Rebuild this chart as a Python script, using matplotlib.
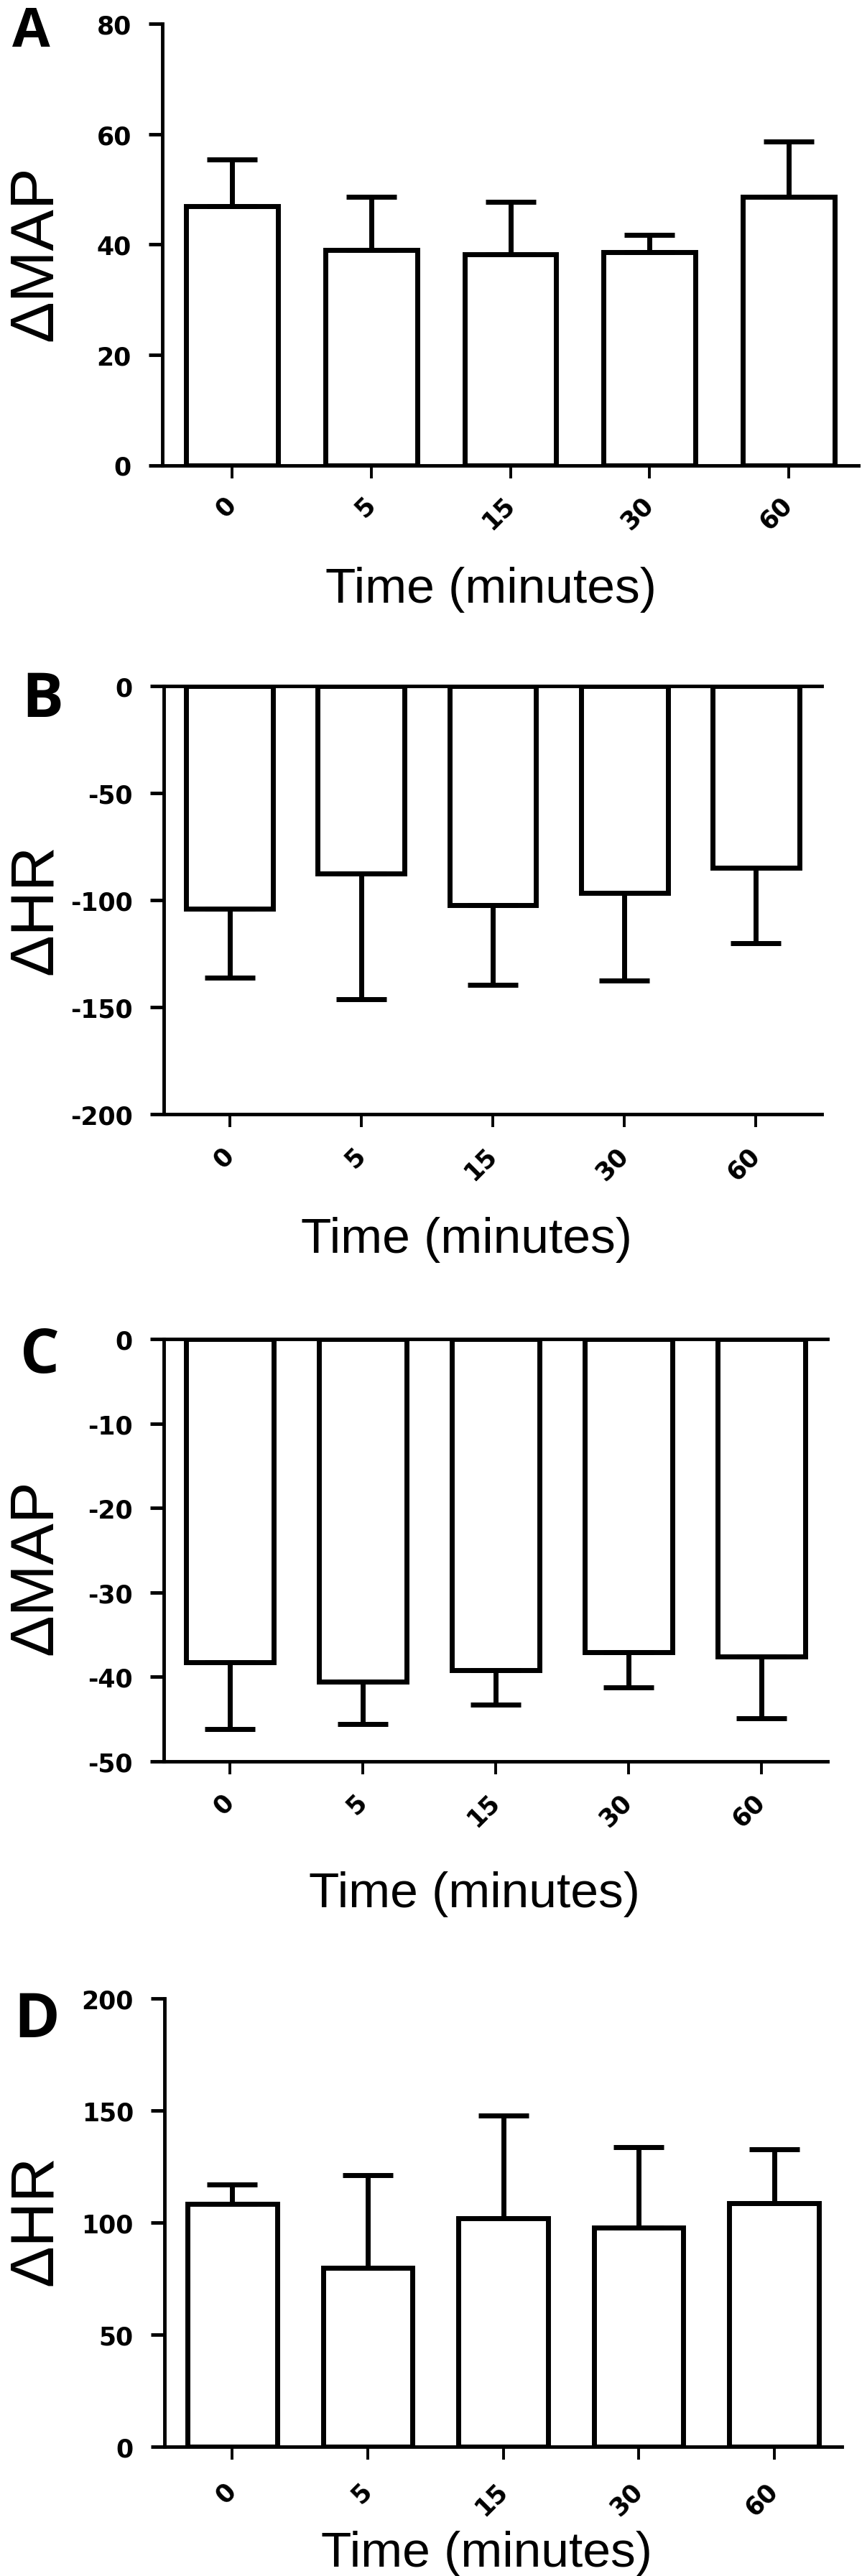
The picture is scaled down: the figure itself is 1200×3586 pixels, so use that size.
import matplotlib
matplotlib.use("Agg")
import matplotlib.pyplot as plt
import numpy as np

plt.rcParams['font.family'] = ['Liberation Sans', 'DejaVu Sans']
plt.rcParams['axes.unicode_minus'] = False
# tick labels are heavy and wide, so ticks get bold DejaVu
plt.rcParams['font.weight'] = 'bold'

# time points (minutes)
times = ["0", "5", "15", "30", "60"]

# panel A: rise in MAP
map_rise = [47.0, 39.0, 38.2, 38.6, 48.7]
map_rise_sem = [8.4, 9.7, 9.6, 3.2, 10.0]
# panel B: fall in HR
hr_fall = [-104.0, -87.5, -102.5, -96.5, -84.8]
hr_fall_sem = [32.3, 58.9, 37.2, 41.1, 35.5]
# panel C: fall in MAP
map_fall = [-38.3, -40.6, -39.2, -37.1, -37.6]
map_fall_sem = [7.9, 5.0, 4.1, 4.1, 7.3]
# panel D: rise in HR
hr_rise = [108.2, 79.8, 101.8, 97.8, 108.8]
hr_rise_sem = [8.8, 41.2, 45.8, 35.8, 23.8]

W, H = 1200, 3587
fig = plt.figure(figsize=(W / 100, H / 100), dpi=100)


def px_axes(left, right, top, bottom):
    # axes box given in pixels from the top-left corner
    return fig.add_axes([left / W, 1 - bottom / H, (right - left) / W, (bottom - top) / H])


panels = [
    # letter, size, ylabel, means, sems, ylim, ystep, box, letter xy, ylabel y, xlabel xy, xtick pad
    ("A", 55, "ΔMAP", map_rise, map_rise_sem, (0, 80), 20, (226, 1195, 34.4, 648.5),
     (17, 65), 353, (683, 839), 22),
    ("B", 62, "ΔHR", hr_fall, hr_fall_sem, (-200, 0), 50, (228, 1144, 956, 1552),
     (30, 998), 1266, (649, 1744), 24),
    ("C", 62, "ΔMAP", map_fall, map_fall_sem, (-50, 0), 10, (228, 1152, 1865, 2453),
     (28, 1911), 2182, (660, 2655), 23.5),
    ("D", 62, "ΔHR", hr_rise, hr_rise_sem, (0, 200), 50, (229, 1172, 2783, 3407),
     (19, 2836), 3091, (677, 3573), 27),
]

x = np.arange(len(times))

for letter, lsize, ylab, means, sems, ylim, ystep, box, lxy, ly, xlxy, xpad in panels:
    ax = px_axes(*box)
    means = np.array(means)
    sems = np.array(sems)
    zeros = np.zeros_like(sems)
    negative = means.mean() < 0

    ax.bar(x, means, width=0.66, color="white", edgecolor="black",
           linewidth=5, zorder=2)
    yerr = [sems, zeros] if negative else [zeros, sems]
    ax.errorbar(x, means, yerr=yerr, fmt="none", ecolor="black",
                elinewidth=5, capsize=25, capthick=5, zorder=3)

    ax.set_xlim(-0.5, 4.5)
    ax.set_ylim(*ylim)
    ax.set_yticks(np.arange(ylim[0], ylim[1] + 1, ystep))
    ax.set_xticks(x)
    ax.set_xticklabels(times, rotation=45, ha="right", va="center",
                       rotation_mode="anchor")

    for side in ["left", "bottom", "top"]:
        ax.spines[side].set_linewidth(3.5)
    ax.spines["right"].set_visible(False)
    ax.spines["top"].set_visible(negative)

    ax.tick_params(axis="y", length=14, width=3.5, pad=17, labelsize=25,
                   labelfontfamily="DejaVu Sans")
    ax.tick_params(axis="x", length=13, width=2.8, pad=xpad, labelsize=25,
                   labelfontfamily="DejaVu Sans")

    fig.text(lxy[0] / W, 1 - lxy[1] / H, letter, fontsize=lsize, fontweight="bold",
             family=["Open Sans", "DejaVu Sans"], ha="left", va="baseline")
    fig.text(72 / W, 1 - ly / H, ylab, rotation=90, rotation_mode="anchor",
             ha="center", va="baseline", fontsize=62, fontweight="normal")
    fig.text(xlxy[0] / W, 1 - xlxy[1] / H, "Time (minutes)", ha="center",
             va="baseline", fontsize=50, fontweight="normal")

fig.savefig("out.png", dpi=100, facecolor="white")
